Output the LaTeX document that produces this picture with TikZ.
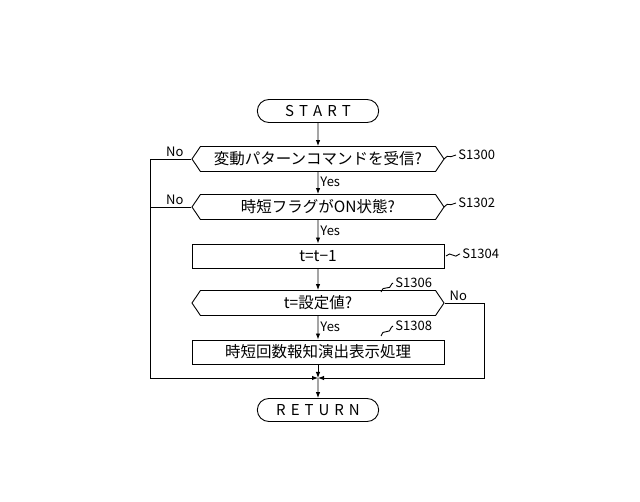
\documentclass[tikz,border=0pt]{standalone}
\usepackage{fontspec}
\setmainfont{Noto Sans CJK JP}
\usetikzlibrary{shapes.misc,shapes.symbols,arrows.meta,decorations.pathmorphing}
\begin{document}
\begin{tikzpicture}[x=1pt,y=-1pt,line width=0.9pt,font=\fontsize{15.5}{17}\selectfont,
 term/.style={draw,rounded rectangle,minimum width=128pt,minimum height=23pt,inner ysep=0pt,font=\fontsize{15}{16}\selectfont},
 dec/.style={draw,signal,signal to=west and east,signal pointer angle=112,minimum width=252pt,minimum height=25pt,inner sep=0pt},
 proc/.style={draw,rectangle,minimum width=252pt,minimum height=24pt,inner sep=0pt},
 arr/.style={-{Latex[length=6pt,width=4.5pt]}},
 lbl/.style={font=\fontsize{13}{14}\selectfont,inner sep=2pt},
 sq/.style={decorate,decoration={snake,amplitude=1.5pt,segment length=12pt}}]
\useasboundingbox (0,0) rectangle (640,502);
\node[term] (start) at (318,111) {S\,\,T\,\,A\,\,R\,\,T};
\node[dec] (d1) at (318,159) {変動パターンコマンドを受信?};
\node[dec] (d2) at (318,207) {時短フラグがON状態?};
\node[proc] (p1) at (318,256) {t=t−1};
\node[dec] (d3) at (318,303) {t=設定値?};
\node[proc] (p2) at (318,352) {時短回数報知演出表示処理};
\coordinate (m) at (318,378);
\node[term] (ret) at (318,410) {R\,\,E\,\,T\,\,U\,\,R\,\,N};
\draw[arr] (start) -- (d1);
\draw[arr] (d1) -- node[lbl,right,pos=0.45]{Yes} (d2);
\draw[arr] (d2) -- node[lbl,right,pos=0.45]{Yes} (p1);
\draw[arr] (p1) -- (d3);
\draw[arr] (d3) -- node[lbl,right,pos=0.45]{Yes} (p2);
\draw[arr] (p2) -- (m);
\draw[arr] (m) -- (ret);
\draw[arr] (d1.west) -- node[lbl,above,pos=0.4]{No} (150,159) -- (150,378) -- (m);
\draw (d2.west) -- node[lbl,above,pos=0.4]{No} (150,207);
\draw[arr] (d3.east) -- node[lbl,above,pos=0.35]{No} (484,303) -- (484,378) -- (m);
\node[lbl,anchor=west] (s1) at (456,155) {S1300};
\draw[sq] (444,159) -- (s1.west);
\node[lbl,anchor=west] (s2) at (456,203) {S1302};
\draw[sq] (444,207) -- (s2.west);
\node[lbl,anchor=west] (s3) at (460,254) {S1304};
\draw[sq] (446,256) -- (s3.west);
\node[lbl,anchor=west] (s4) at (393,283) {S1306};
\draw[sq] (381,292) -- (s4.west);
\node[lbl,anchor=west] (s5) at (393,326) {S1308};
\draw[sq] (381,336) -- (s5.west);
\end{tikzpicture}
\end{document}
